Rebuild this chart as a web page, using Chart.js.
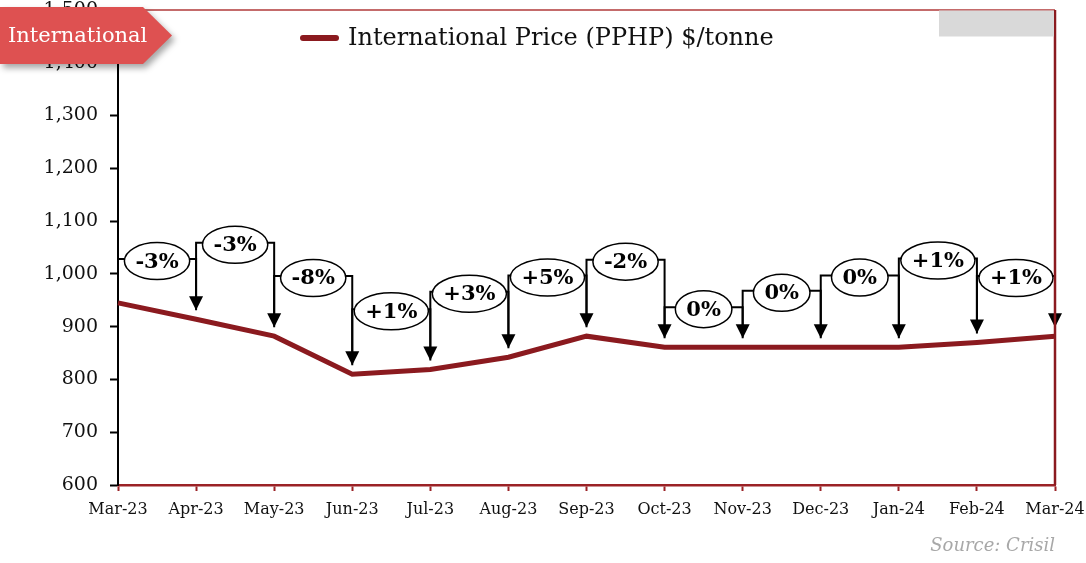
<!DOCTYPE html>
<html>
<head>
<meta charset="utf-8">
<script src="https://cdn.jsdelivr.net/npm/chart.js@4"></script>
<style>
  body { margin: 0; background: #fff; }
  #wrap { position: relative; width: 1086px; height: 563px; }
  .tag {
    position: absolute; left: 0; top: 7px;
    filter: drop-shadow(3px 4px 3px rgba(0,0,0,0.35));
    z-index: 2;
  }
  .tag div {
    width: 172px; height: 57px; line-height: 57px;
    background: #de5151; color: #fff;
    font-family: 'DejaVu Serif', serif; font-size: 21px;
    padding-left: 8px; box-sizing: border-box;
    clip-path: polygon(0 0, 143px 0, 172px 50%, 143px 100%, 0 100%);
  }
  .source {
    position: absolute; right: 31px; top: 534px;
    font-family: 'DejaVu Serif', serif; font-style: italic;
    font-size: 18px; color: #a8a8a8;
  }
</style>
</head>
<body>
<div id="wrap">
  <canvas id="canvas"></canvas>
  <div class="tag"><div>International</div></div>
  <div class="source">Source: Crisil</div>
</div>
<script>
// monthly price, $/tonne
const months = ['Mar-23', 'Apr-23', 'May-23', 'Jun-23', 'Jul-23', 'Aug-23', 'Sep-23',
                'Oct-23', 'Nov-23', 'Dec-23', 'Jan-24', 'Feb-24', 'Mar-24']
const prices = [945, 914, 882, 810, 819, 842, 882, 861, 861, 861, 861, 870, 882]

// month-on-month change, one per step between months
const changeLabels = ['-3%', '-3%', '-8%', '+1%', '+3%', '+5%', '-2%', '0%', '0%', '0%', '+1%', '+1%']
// height of each bracket (in price units)
const bracketLevels = [1028, 1059, 996, 933, 966, 997, 1027, 937, 968, 997, 1029, 996]

const yTicks = [600, 700, 800, 900, 1000, 1100, 1200, 1300, 1400, 1500]

const lineColor = '#8b1a1f'
const axisRed = '#9b2226'

Chart.defaults.font.family = "'DejaVu Serif', serif"

// brackets with arrows and the % change bubble between two months
const changeBrackets = {
    id: 'changeBrackets',
    afterDatasetsDraw(chart) {
        const ctx = chart.ctx
        const x = chart.scales.x
        const y = chart.scales.y
        const pts = chart.getDatasetMeta(0).data
        ctx.save()
        ctx.strokeStyle = '#000'
        ctx.fillStyle = '#000'
        ctx.lineWidth = 2
        for (let i = 0; i < changeLabels.length; i++) {
            const x0 = x.getPixelForValue(i)
            const x1 = x.getPixelForValue(i + 1)
            const yb = y.getPixelForValue(bracketLevels[i])
            const tip0 = pts[i].y - 9
            const tip1 = pts[i + 1].y - 9

            ctx.beginPath()
            ctx.moveTo(x0, tip0)
            ctx.lineTo(x0, yb)
            ctx.lineTo(x1, yb)
            ctx.lineTo(x1, tip1 - 13)
            ctx.stroke()

            // arrow head
            ctx.beginPath()
            ctx.moveTo(x1 - 7, tip1 - 14)
            ctx.lineTo(x1 + 7, tip1 - 14)
            ctx.lineTo(x1, tip1)
            ctx.closePath()
            ctx.fill()

            // bubble
            ctx.font = "bold 21px 'DejaVu Serif', serif"
            const w = ctx.measureText(changeLabels[i]).width
            const cx = (x0 + x1) / 2
            const cy = yb + 2
            ctx.beginPath()
            ctx.ellipse(cx, cy, w / 2 + 11, 18.5, 0, 0, Math.PI * 2)
            ctx.fillStyle = '#fff'
            ctx.fill()
            ctx.lineWidth = 1.5
            ctx.stroke()
            ctx.lineWidth = 2
            ctx.fillStyle = '#000'
            ctx.textAlign = 'center'
            ctx.textBaseline = 'middle'
            ctx.fillText(changeLabels[i], cx, cy + 1)
        }
        ctx.restore()
    },
    afterDraw(chart) {
        const ctx = chart.ctx
        const area = chart.chartArea
        ctx.save()
        // frame: thin top line, heavier right side
        ctx.strokeStyle = '#b03a3a'
        ctx.lineWidth = 1.5
        ctx.beginPath()
        ctx.moveTo(area.left, area.top)
        ctx.lineTo(area.right, area.top)
        ctx.stroke()
        ctx.strokeStyle = lineColor
        ctx.lineWidth = 2.5
        ctx.beginPath()
        ctx.moveTo(area.right, area.top)
        ctx.lineTo(area.right, area.bottom)
        ctx.stroke()

        // grey box top right
        ctx.fillStyle = '#d9d9d9'
        ctx.fillRect(area.right - 116, area.top + 0.5, 115, 26)

        // legend
        const ds = chart.data.datasets[0]
        ctx.strokeStyle = ds.borderColor
        ctx.lineWidth = 6
        ctx.lineCap = 'round'
        ctx.beginPath()
        ctx.moveTo(303, 38)
        ctx.lineTo(336, 38)
        ctx.stroke()
        ctx.fillStyle = '#111'
        ctx.font = "24px 'DejaVu Serif', serif"
        ctx.textBaseline = 'middle'
        ctx.fillText(ds.label, 348, 39)
        ctx.restore()
    }
}

new Chart(document.querySelector('#canvas'), {
    type: 'line',
    data: {
        labels: months,
        datasets: [{
            label: 'International Price (PPHP) $/tonne',
            data: prices,
            borderColor: lineColor,
            borderWidth: 5,
            pointRadius: 0,
            tension: 0
        }]
    },
    options: {
        responsive: true,
        maintainAspectRatio: false,
        animation: false,
        layout: { padding: { top: 10, right: 31, left: 0, bottom: 0 } },
        scales: {
            x: {
                offset: false,
                afterFit: (s) => {
                    s.height = 78
                    s.paddingLeft = 0
                    s.paddingRight = 0
                },
                ticks: {
                    color: '#111',
                    font: { size: 16 },
                    padding: 9,
                    maxRotation: 0,
                    autoSkip: false
                },
                grid: {
                    drawOnChartArea: false,
                    tickLength: 6,
                    tickColor: axisRed,
                    tickWidth: 2
                },
                border: { color: axisRed, width: 2.5 }
            },
            y: {
                min: 600,
                max: 1500,
                afterFit: (s) => {
                    s.width = 118
                    s.paddingTop = 0
                    s.paddingBottom = 0
                },
                afterBuildTicks: (s) => { s.ticks = yTicks.map(v => ({ value: v })) },
                ticks: {
                    color: '#111',
                    font: { size: 19 },
                    padding: 12,
                    callback: (v) => v.toLocaleString('en-US')
                },
                grid: {
                    drawOnChartArea: false,
                    tickLength: 8,
                    tickColor: '#000',
                    tickWidth: 2
                },
                border: { color: '#000', width: 2 }
            }
        },
        plugins: {
            legend: { display: false },
            tooltip: { enabled: false }
        }
    },
    plugins: [changeBrackets]
})
</script>
</body>
</html>
